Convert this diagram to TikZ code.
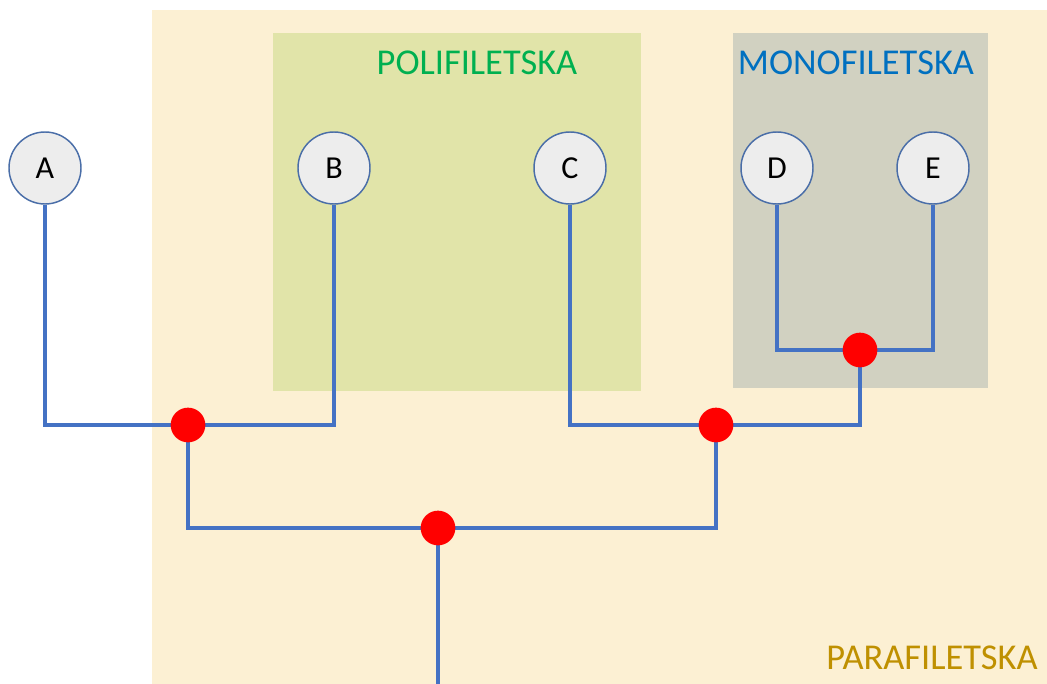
\documentclass[tikz,border=0pt]{standalone}
\usepackage{fontspec}
\setmainfont{Carlito}
\definecolor{parabg}{HTML}{FCF0D3}
\definecolor{polibg}{HTML}{E1E4A9}
\definecolor{monobg}{HTML}{D1D1C1}
\definecolor{linec}{HTML}{4472C4}
\definecolor{circb}{HTML}{4A6EA8}
\definecolor{circf}{HTML}{EDEDED}
\definecolor{polit}{HTML}{00B050}
\definecolor{monot}{HTML}{0070C0}
\definecolor{parat}{HTML}{BF9000}
\begin{document}
\begin{tikzpicture}[x=0.75pt,y=-0.75pt,
  taxon/.style={circle,draw=circb,line width=1.1pt,fill=circf,minimum size=54pt,inner sep=0pt,font=\fontsize{24}{28}\selectfont},
  branch/.style={draw=linec,line width=3pt},
  split/.style={circle,fill=red,minimum size=26pt,inner sep=0pt},
  grp/.style={font=\fontsize{27.3}{32}\selectfont}]
\useasboundingbox (0,0) rectangle (1047,684);
\fill[parabg] (152,10) rectangle (1047,684);
\fill[polibg] (273,33) rectangle (641,391);
\fill[monobg] (733,33) rectangle (988,388);
\node[grp,text=polit] (poli) at (477,63) {POLIFILETSKA};
\node[grp,text=monot] (mono) at (856,63) {MONOFILETSKA};
\node[grp,text=parat] (para) at (932,658) {PARAFILETSKA};
\coordinate (root) at (438,684);
\node[taxon] (A) at (45,168) {A};
\node[taxon] (B) at (334,168) {B};
\node[taxon] (C) at (570,168) {C};
\node[taxon] (D) at (777,168) {D};
\node[taxon] (E) at (933,168) {E};
\coordinate (nAB) at (188,425);
\coordinate (nCDE) at (716,425);
\coordinate (nDE) at (860,350);
\coordinate (nR) at (438,528);
\draw[branch] (A.south) |- (nAB) -| (B.south);
\draw[branch] (C.south) |- (nCDE) -| (nDE);
\draw[branch] (D.south) |- (nDE) -| (E.south);
\draw[branch] (nAB) |- (nR) -| (nCDE);
\draw[branch] (nR) -- (root);
\node[split] at (nAB) {};
\node[split] at (nCDE) {};
\node[split] at (nDE) {};
\node[split] at (nR) {};
\end{tikzpicture}
\end{document}
